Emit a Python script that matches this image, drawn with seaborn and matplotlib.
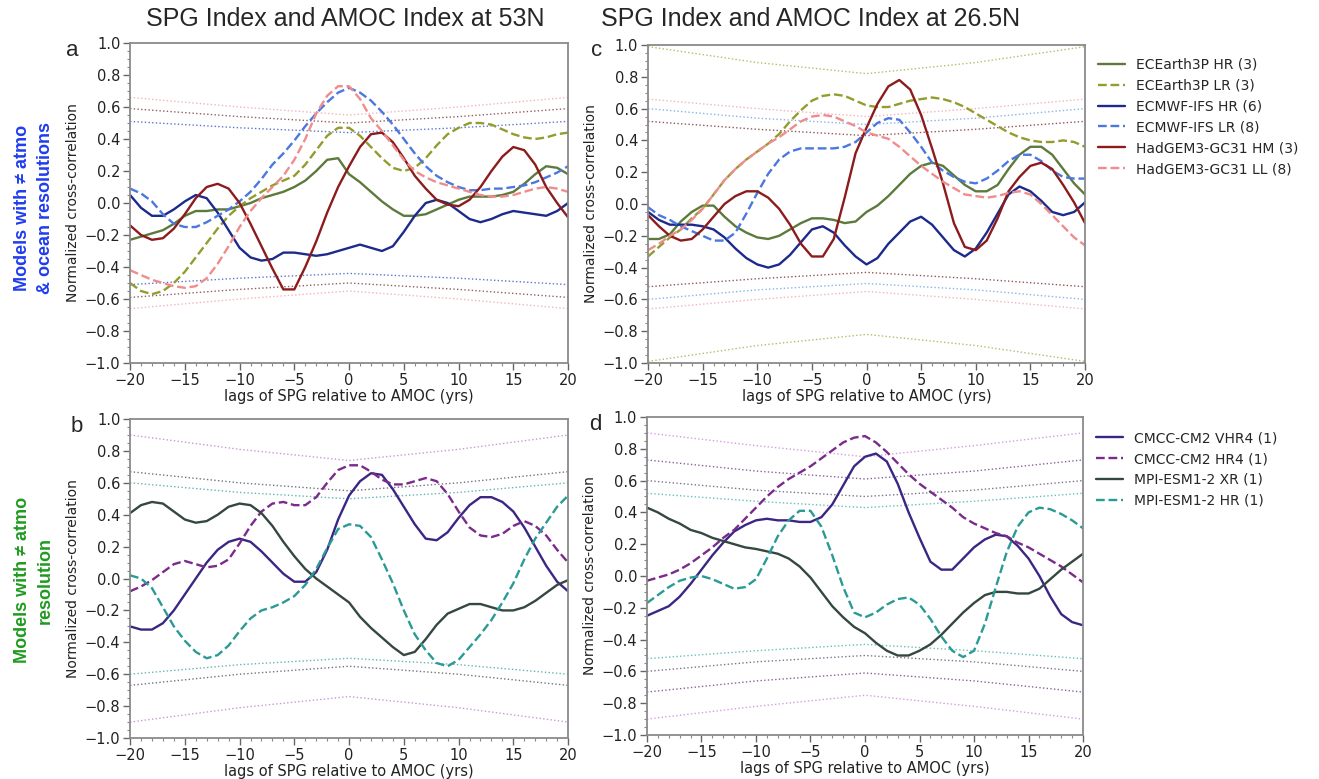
import matplotlib
matplotlib.use("Agg")
import matplotlib.pyplot as plt
import seaborn as sns
from matplotlib.ticker import MultipleLocator

# ---------------- data ----------------
lags = list(range(-20, 21))
sig_lags = [-20, -10, 0, 10, 20]

# Panel a : SPG vs AMOC at 53N (models with different atmo & ocean resolutions)
a_ec_hr = [-0.23, -0.21, -0.19, -0.17, -0.13, -0.08, -0.05, -0.05, -0.04, -0.04,
           -0.02, 0.00, 0.03, 0.05, 0.07, 0.10, 0.14, 0.20, 0.27, 0.28,
           0.18, 0.13, 0.07, 0.01, -0.04, -0.08, -0.08, -0.07, -0.04, -0.01,
           0.02, 0.04, 0.04, 0.04, 0.05, 0.07, 0.12, 0.18, 0.23, 0.22, 0.18]
a_ec_lr = [-0.50, -0.55, -0.57, -0.55, -0.50, -0.43, -0.34, -0.25, -0.16, -0.08,
           -0.02, 0.03, 0.07, 0.11, 0.14, 0.17, 0.24, 0.33, 0.42, 0.47,
           0.47, 0.42, 0.35, 0.28, 0.22, 0.20, 0.22, 0.28, 0.36, 0.43,
           0.47, 0.50, 0.50, 0.49, 0.46, 0.43, 0.41, 0.40, 0.41, 0.43, 0.44]
a_ifs_hr = [0.05, -0.03, -0.08, -0.08, -0.04, 0.01, 0.05, 0.03, -0.06, -0.17,
            -0.28, -0.34, -0.36, -0.35, -0.31, -0.31, -0.32, -0.33, -0.32, -0.30,
            -0.28, -0.26, -0.28, -0.30, -0.27, -0.18, -0.08, 0.00, 0.02, 0.00,
            -0.05, -0.10, -0.12, -0.10, -0.07, -0.05, -0.06, -0.07, -0.08, -0.05, 0.00]
a_ifs_lr = [0.09, 0.06, 0.01, -0.07, -0.13, -0.15, -0.15, -0.12, -0.08, -0.04,
            0.01, 0.07, 0.15, 0.24, 0.31, 0.39, 0.48, 0.56, 0.63, 0.69,
            0.72, 0.69, 0.64, 0.57, 0.49, 0.40, 0.31, 0.23, 0.17, 0.13,
            0.10, 0.08, 0.08, 0.09, 0.09, 0.10, 0.11, 0.13, 0.16, 0.19, 0.23]
a_hm = [-0.14, -0.20, -0.23, -0.22, -0.16, -0.07, 0.03, 0.10, 0.12, 0.09,
        0.00, -0.13, -0.27, -0.41, -0.54, -0.54, -0.40, -0.24, -0.06, 0.10,
        0.23, 0.35, 0.43, 0.44, 0.38, 0.28, 0.17, 0.09, 0.02, -0.01,
        -0.02, 0.02, 0.10, 0.20, 0.29, 0.35, 0.33, 0.24, 0.10, 0.00, -0.09]
a_ll = [-0.42, -0.45, -0.48, -0.50, -0.52, -0.53, -0.52, -0.47, -0.38, -0.27,
        -0.15, -0.05, 0.03, 0.10, 0.17, 0.27, 0.40, 0.56, 0.67, 0.73,
        0.73, 0.65, 0.53, 0.45, 0.36, 0.27, 0.20, 0.16, 0.13, 0.11,
        0.09, 0.07, 0.05, 0.04, 0.04, 0.05, 0.07, 0.09, 0.10, 0.09, 0.07]

# Panel c : SPG vs AMOC at 26.5N
c_ec_hr = [-0.22, -0.22, -0.19, -0.11, -0.05, -0.01, -0.01, -0.08, -0.14, -0.18,
           -0.21, -0.22, -0.20, -0.16, -0.12, -0.09, -0.09, -0.10, -0.12, -0.11,
           -0.05, -0.01, 0.05, 0.12, 0.19, 0.24, 0.26, 0.24, 0.18, 0.12,
           0.08, 0.08, 0.12, 0.22, 0.31, 0.36, 0.36, 0.31, 0.22, 0.13, 0.06]
c_ec_lr = [-0.33, -0.27, -0.21, -0.16, -0.09, -0.03, 0.06, 0.15, 0.22, 0.28,
           0.33, 0.38, 0.44, 0.52, 0.59, 0.65, 0.68, 0.69, 0.68, 0.65,
           0.62, 0.61, 0.61, 0.63, 0.65, 0.66, 0.67, 0.66, 0.64, 0.61,
           0.57, 0.53, 0.49, 0.45, 0.42, 0.40, 0.39, 0.39, 0.40, 0.39, 0.36]
c_ifs_hr = [-0.05, -0.10, -0.13, -0.13, -0.13, -0.14, -0.16, -0.21, -0.28, -0.34,
            -0.38, -0.40, -0.38, -0.32, -0.24, -0.16, -0.14, -0.18, -0.26, -0.33,
            -0.38, -0.34, -0.25, -0.18, -0.11, -0.08, -0.13, -0.21, -0.29, -0.33,
            -0.28, -0.18, -0.06, 0.06, 0.11, 0.08, 0.02, -0.05, -0.07, -0.05, 0.01]
c_ifs_lr = [-0.02, -0.07, -0.10, -0.14, -0.17, -0.20, -0.23, -0.23, -0.18, -0.06,
            0.07, 0.19, 0.28, 0.33, 0.35, 0.35, 0.35, 0.35, 0.36, 0.39,
            0.45, 0.51, 0.54, 0.53, 0.45, 0.36, 0.26, 0.21, 0.17, 0.14,
            0.13, 0.16, 0.21, 0.27, 0.31, 0.31, 0.27, 0.21, 0.17, 0.16, 0.16]
c_hm = [-0.07, -0.14, -0.20, -0.23, -0.22, -0.16, -0.08, 0.00, 0.05, 0.08,
        0.08, 0.04, -0.03, -0.13, -0.25, -0.33, -0.33, -0.22, 0.04, 0.32,
        0.48, 0.63, 0.74, 0.78, 0.72, 0.56, 0.35, 0.13, -0.12, -0.27,
        -0.29, -0.23, -0.09, 0.08, 0.17, 0.24, 0.26, 0.22, 0.12, 0.01, -0.12]
c_ll = [-0.29, -0.25, -0.20, -0.16, -0.10, -0.03, 0.06, 0.15, 0.22, 0.28,
        0.33, 0.38, 0.42, 0.47, 0.52, 0.55, 0.56, 0.55, 0.52, 0.49,
        0.45, 0.43, 0.41, 0.36, 0.30, 0.24, 0.19, 0.14, 0.10, 0.06,
        0.05, 0.04, 0.05, 0.07, 0.08, 0.06, 0.00, -0.07, -0.14, -0.21, -0.26]

# Panel b : 53N (models with different atmo resolution)
b_vhr = [-0.30, -0.32, -0.32, -0.28, -0.20, -0.10, 0.00, 0.10, 0.18, 0.23,
         0.25, 0.23, 0.17, 0.10, 0.03, -0.02, -0.02, 0.04, 0.18, 0.37,
         0.52, 0.61, 0.66, 0.65, 0.56, 0.45, 0.34, 0.25, 0.24, 0.29,
         0.38, 0.46, 0.51, 0.51, 0.48, 0.42, 0.32, 0.20, 0.08, -0.02, -0.08]
b_hr4 = [-0.08, -0.05, -0.01, 0.04, 0.09, 0.11, 0.09, 0.07, 0.08, 0.12,
         0.22, 0.33, 0.42, 0.47, 0.48, 0.46, 0.46, 0.51, 0.60, 0.68,
         0.71, 0.71, 0.67, 0.62, 0.59, 0.59, 0.61, 0.63, 0.61, 0.53,
         0.42, 0.32, 0.27, 0.26, 0.28, 0.33, 0.36, 0.33, 0.27, 0.18, 0.10]
b_xr = [0.41, 0.46, 0.48, 0.47, 0.42, 0.37, 0.35, 0.36, 0.40, 0.45,
        0.47, 0.46, 0.41, 0.33, 0.23, 0.14, 0.06, 0.00, -0.05, -0.10,
        -0.15, -0.24, -0.31, -0.37, -0.43, -0.48, -0.46, -0.38, -0.29, -0.22,
        -0.19, -0.16, -0.16, -0.18, -0.20, -0.20, -0.18, -0.14, -0.09, -0.04, -0.01]
b_mpihr = [0.02, 0.00, -0.06, -0.18, -0.30, -0.39, -0.46, -0.50, -0.48, -0.42,
           -0.33, -0.25, -0.20, -0.18, -0.15, -0.11, -0.04, 0.06, 0.19, 0.31,
           0.34, 0.33, 0.26, 0.12, -0.03, -0.20, -0.35, -0.45, -0.53, -0.55,
           -0.51, -0.43, -0.35, -0.26, -0.15, -0.03, 0.12, 0.25, 0.35, 0.45, 0.52]

# Panel d : 26.5N
d_vhr = [-0.25, -0.22, -0.19, -0.13, -0.05, 0.04, 0.13, 0.21, 0.28, 0.32,
         0.35, 0.36, 0.35, 0.35, 0.34, 0.34, 0.37, 0.45, 0.57, 0.69,
         0.75, 0.77, 0.72, 0.58, 0.40, 0.24, 0.09, 0.04, 0.04, 0.11,
         0.18, 0.23, 0.26, 0.25, 0.19, 0.11, 0.00, -0.13, -0.24, -0.29, -0.31]
d_hr4 = [-0.03, -0.01, 0.01, 0.04, 0.08, 0.13, 0.18, 0.24, 0.29, 0.36,
         0.43, 0.50, 0.56, 0.61, 0.65, 0.69, 0.74, 0.79, 0.84, 0.87,
         0.88, 0.84, 0.78, 0.71, 0.64, 0.58, 0.53, 0.48, 0.43, 0.37,
         0.33, 0.30, 0.27, 0.25, 0.21, 0.18, 0.14, 0.10, 0.06, 0.01, -0.04]
d_xr = [0.43, 0.40, 0.36, 0.33, 0.29, 0.27, 0.24, 0.22, 0.20, 0.18,
        0.17, 0.155, 0.14, 0.11, 0.06, -0.01, -0.10, -0.19, -0.26, -0.32,
        -0.36, -0.42, -0.47, -0.50, -0.50, -0.47, -0.43, -0.37, -0.30, -0.23,
        -0.17, -0.12, -0.10, -0.10, -0.11, -0.11, -0.08, -0.02, 0.04, 0.09, 0.14]
d_mpihr = [-0.17, -0.12, -0.07, -0.03, -0.01, 0.00, -0.02, -0.05, -0.08, -0.07,
           -0.02, 0.11, 0.25, 0.35, 0.41, 0.41, 0.31, 0.13, -0.07, -0.23,
           -0.26, -0.23, -0.18, -0.145, -0.135, -0.18, -0.27, -0.38, -0.47, -0.51,
           -0.47, -0.30, -0.07, 0.15, 0.31, 0.40, 0.43, 0.42, 0.39, 0.35, 0.30]

# significance thresholds (upper bound; lower bound is its mirror)
sig_a_pink = [0.66, 0.60, 0.55, 0.60, 0.66]
sig_a_dark = [0.59, 0.54, 0.50, 0.54, 0.59]
sig_a_blue = [0.51, 0.47, 0.44, 0.47, 0.51]
sig_c_olive = [0.99, 0.89, 0.82, 0.89, 0.99]
sig_c_pink = [0.66, 0.60, 0.55, 0.60, 0.66]
sig_c_blue = [0.60, 0.54, 0.50, 0.54, 0.60]
sig_c_dark = [0.52, 0.47, 0.43, 0.47, 0.52]
sig_b_purple = [0.90, 0.81, 0.74, 0.81, 0.90]
sig_b_dark = [0.67, 0.60, 0.55, 0.60, 0.67]
sig_b_teal = [0.60, 0.54, 0.50, 0.54, 0.60]
sig_d_purple = [0.90, 0.82, 0.75, 0.82, 0.90]
sig_d_dpurple = [0.73, 0.66, 0.61, 0.66, 0.73]
sig_d_gray = [0.60, 0.54, 0.50, 0.54, 0.60]
sig_d_teal = [0.52, 0.47, 0.43, 0.47, 0.52]

top_names = ["ECEarth3P HR (3)", "ECEarth3P LR (3)", "ECMWF-IFS HR (6)",
             "ECMWF-IFS LR (8)", "HadGEM3-GC31 HM (3)", "HadGEM3-GC31 LL (8)"]
bot_names = ["CMCC-CM2 VHR4 (1)", "CMCC-CM2 HR4 (1)", "MPI-ESM1-2 XR (1)", "MPI-ESM1-2 HR (1)"]
yticks = [-1.0, -0.8, -0.6, -0.4, -0.2, 0.0, 0.2, 0.4, 0.6, 0.8, 1.0]
xticks = [-20, -15, -10, -5, 0, 5, 10, 15, 20]

# ---------------- style ----------------
sns.set_style("ticks")
plt.rcParams['font.family'] = ['DejaVu Sans']
plt.rcParams['axes.unicode_minus'] = True

top_colors = ['#5d7a3c', '#939c2c', '#1c2a8c', '#4a78e0', '#8c1c1c', '#f08c8c']
top_styles = ['-', '--', '-', '--', '-', '--']
bot_colors = ['#3b2684', '#7b2a8c', '#35483f', '#2a9a95']
bot_styles = ['-', '--', '-', '--']

fig = plt.figure(figsize=(13.19, 7.79), dpi=100)
ax_a = fig.add_axes([0.0986, 0.534, 0.3321, 0.4108])
ax_c = fig.add_axes([0.4913, 0.534, 0.3313, 0.4082])
ax_b = fig.add_axes([0.0986, 0.0526, 0.3321, 0.4095])
ax_d = fig.add_axes([0.4905, 0.0565, 0.3306, 0.4082])


def draw_sig(ax, band, color):
    sns.lineplot(x=sig_lags, y=band, ax=ax, color=color, linestyle=':', lw=1.0,
                 alpha=0.8, legend=False)
    sns.lineplot(x=sig_lags, y=[-v for v in band], ax=ax, color=color, linestyle=':',
                 lw=1.0, alpha=0.8, legend=False)


def draw_series(ax, series, names, colors, styles):
    for vals, name, col, ls in zip(series, names, colors, styles):
        sns.lineplot(x=lags, y=vals, ax=ax, color=col, linestyle=ls, lw=1.7, label=name)


def style_ax(ax):
    ax.set_xlim(-20, 20)
    ax.set_ylim(-1.0, 1.0)
    ax.set_xticks(xticks)
    ax.set_yticks(yticks)
    ax.set_yticklabels([f"{v:.1f}".replace('-', '\u2212') for v in yticks])
    ax.xaxis.set_minor_locator(MultipleLocator(1))
    ax.yaxis.set_minor_locator(MultipleLocator(0.05))
    ax.tick_params(which='major', length=5, width=1.0, color='#666666',
                   labelsize=10.5, labelcolor='#222222', pad=2)
    ax.tick_params(which='minor', length=2.5, width=0.8, color='#888888')
    for s in ax.spines.values():
        s.set_visible(True)
        s.set_color('#8a8a8a')
        s.set_linewidth(1.3)
    ax.set_xlabel("lags of SPG relative to AMOC (yrs)", fontsize=10.5, color='#222222', labelpad=1)
    ax.set_ylabel("Normalized cross-correlation", fontsize=10, color='#222222', labelpad=3)


# panel a
draw_sig(ax_a, sig_a_pink, '#f0a0a8')
draw_sig(ax_a, sig_a_dark, '#7a3434')
draw_sig(ax_a, sig_a_blue, '#3552c0')
draw_series(ax_a, [a_ec_hr, a_ec_lr, a_ifs_hr, a_ifs_lr, a_hm, a_ll], top_names, top_colors, top_styles)

# panel c
draw_sig(ax_c, sig_c_olive, '#a8a848')
draw_sig(ax_c, sig_c_pink, '#f0a0a8')
draw_sig(ax_c, sig_c_blue, '#6aa0e8')
draw_sig(ax_c, sig_c_dark, '#7a2a2a')
draw_series(ax_c, [c_ec_hr, c_ec_lr, c_ifs_hr, c_ifs_lr, c_hm, c_ll], top_names, top_colors, top_styles)

# panel b
draw_sig(ax_b, sig_b_purple, '#c07ad0')
draw_sig(ax_b, sig_b_dark, '#505060')
draw_sig(ax_b, sig_b_teal, '#40a0a0')
draw_series(ax_b, [b_vhr, b_hr4, b_xr, b_mpihr], bot_names, bot_colors, bot_styles)

# panel d
draw_sig(ax_d, sig_d_purple, '#d080e0')
draw_sig(ax_d, sig_d_dpurple, '#6a3a8a')
draw_sig(ax_d, sig_d_gray, '#605070')
draw_sig(ax_d, sig_d_teal, '#40b0a8')
draw_series(ax_d, [d_vhr, d_hr4, d_xr, d_mpihr], bot_names, bot_colors, bot_styles)

for ax in (ax_a, ax_b, ax_c, ax_d):
    style_ax(ax)
    leg = ax.get_legend()
    if leg is not None:
        leg.remove()

h, l = ax_c.get_legend_handles_labels()
ax_c.legend(h, l, loc='upper left', bbox_to_anchor=(1.0, 1.0), frameon=False,
            fontsize=10, handlelength=2.0, labelspacing=0.5, borderaxespad=0.5)
h, l = ax_d.get_legend_handles_labels()
ax_d.legend(h, l, loc='upper left', bbox_to_anchor=(1.0, 0.995), frameon=False,
            fontsize=10, handlelength=2.0, labelspacing=0.5, borderaxespad=0.5)

# titles
W, H = 1319.0, 779.0
fig.text(345 / W, 1 - 19 / H, "SPG Index and AMOC Index at 53N", ha='center', va='center',
         fontsize=18, family=['Liberation Sans', 'DejaVu Sans'])
fig.text(811 / W, 1 - 19 / H, "SPG Index and AMOC Index at 26.5N", ha='center', va='center',
         fontsize=18, family=['Liberation Sans', 'DejaVu Sans'])

# panel letters
for letter, (px, py) in {'a': (72, 50), 'c': (597, 50), 'b': (77, 427), 'd': (595, 425)}.items():
    fig.text(px / W, 1 - py / H, letter, ha='center', va='center', fontsize=16,
             family=['Liberation Sans', 'DejaVu Sans'])

# row labels
fig.text(34 / W, 1 - 208 / H, "Models with \u2260 atmo\n& ocean resolutions", rotation=90,
         ha='center', va='center', fontsize=13, fontweight='bold', color='#1f3cf0',
         linespacing=1.45, multialignment='center',
         family=['Liberation Sans Narrow', 'Liberation Sans', 'DejaVu Sans'])
fig.text(34 / W, 1 - 580 / H, "Models with \u2260 atmo\nresolution", rotation=90,
         ha='center', va='center', fontsize=13, fontweight='bold', color='#1f9a1f',
         linespacing=1.45, multialignment='center',
         family=['Liberation Sans Narrow', 'Liberation Sans', 'DejaVu Sans'])

fig.savefig("out.png", dpi=100, facecolor='white')
